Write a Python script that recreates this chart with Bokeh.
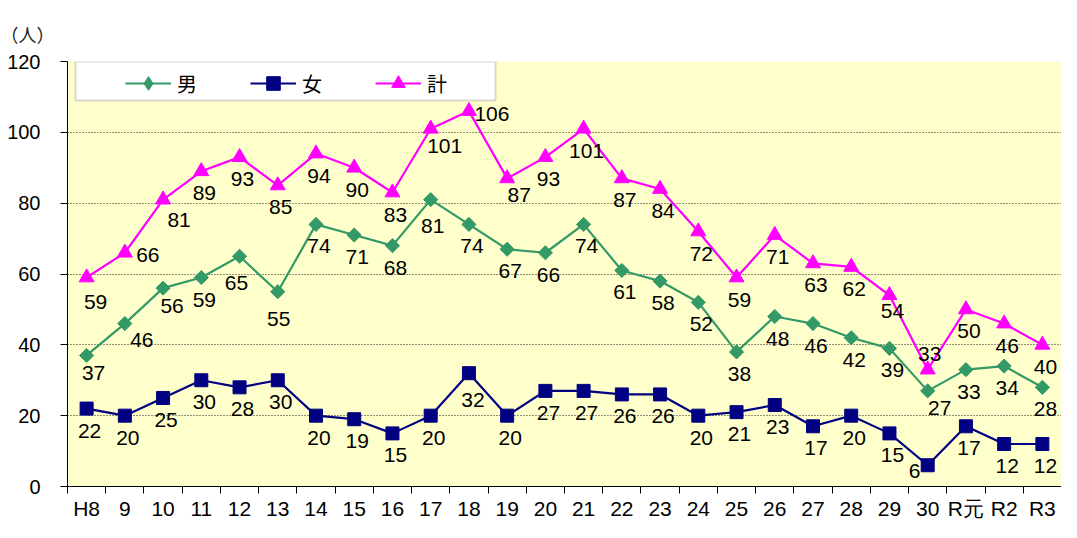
import numpy as np
from bokeh.plotting import figure
from bokeh.models import (ColumnDataSource, FixedTicker, LabelSet, Legend, LegendItem,
                          BoxAnnotation, Range1d, Title)
from bokeh.core.properties import value
from bokeh.embed import file_html
from bokeh.resources import INLINE

# ---------------- data ----------------
categories = ["H8", "9", "10", "11", "12", "13", "14", "15", "16", "17", "18", "19", "20",
              "21", "22", "23", "24", "25", "26", "27", "28", "29", "30", "R元", "R2", "R3"]
male = [37, 46, 56, 59, 65, 55, 74, 71, 68, 81, 74, 67, 66, 74, 61, 58, 52, 38, 48, 46, 42, 39, 27, 33, 34, 28]
female = [22, 20, 25, 30, 28, 30, 20, 19, 15, 20, 32, 20, 27, 27, 26, 26, 20, 21, 23, 17, 20, 15, 6, 17, 12, 12]
total = [59, 66, 81, 89, 93, 85, 94, 90, 83, 101, 106, 87, 93, 101, 87, 84, 72, 59, 71, 63, 62, 54, 33, 50, 46, 40]
series_names = ["男", "女", "計"]
y_ticks = [0, 20, 40, 60, 80, 100, 120]

# ---------------- style ----------------
W, H = 1061, 522
BL, BR, BT, BB = 67, 0, 61, 35
GREEN, NAVY, MAGENTA = "#339966", "#000080", "#FF00FF"
LATIN = "Liberation Sans"
CJK = "Noto Sans CJK JP"

# label offsets (screen px: dx right, dy down); default plus a few exceptions
DEFAULT_OFF = (3, 22)
label_exceptions = {
    ("計", "H8"): (9, 24), ("計", "9"): (23, 2), ("計", "10"): (16, 20), ("計", "17"): (14, 17),
    ("計", "18"): (23, 3), ("計", "19"): (12, 17), ("計", "30"): (2, -16), ("計", "29"): (3, 16),
    ("男", "H8"): (7, 18), ("男", "9"): (17, 16), ("男", "10"): (9, 18), ("男", "12"): (-3, 27),
    ("男", "13"): (1, 27), ("男", "30"): (12, 17), ("男", "17"): (2, 26),
    ("女", "30"): (-13, 6), ("女", "18"): (4, 27),
}

n = len(categories)
xs = [i + 0.5 for i in range(n)]

p = figure(width=W, height=H, output_backend="svg", toolbar_location=None,
           x_range=Range1d(0, n), y_range=Range1d(0, 120),
           min_border_left=BL, min_border_right=BR, min_border_top=BT, min_border_bottom=BB,
           background_fill_color="#FFFFCC", border_fill_color="white")
p.outline_line_color = None

# title "(人)"
p.title = Title(text="（人）", align="left", offset=-BL, standoff=29,
                text_font=CJK, text_font_size="18px", text_font_style="normal", text_color="#222222")

# axes
p.xaxis.ticker = FixedTicker(ticks=xs, minor_ticks=list(range(n + 1)))
p.xaxis.major_label_overrides = {x: c for x, c in zip(xs, categories)}
p.xaxis.major_tick_out = 0
p.xaxis.major_tick_in = 0
p.xaxis.minor_tick_out = 7
p.xaxis.minor_tick_in = 0
p.xaxis.minor_tick_line_color = "black"
p.xaxis.axis_line_color = "black"
p.xaxis.major_label_text_font = LATIN
p.xaxis.major_label_text_font_size = "21px"
p.xaxis.major_label_text_color = "black"
p.xaxis.major_label_standoff = 3

p.yaxis.ticker = FixedTicker(ticks=y_ticks)
p.yaxis.major_tick_out = 7
p.yaxis.major_tick_in = 0
p.yaxis.minor_tick_line_color = None
p.yaxis.axis_line_color = "black"
p.yaxis.major_tick_line_color = "black"
p.yaxis.major_label_text_font = LATIN
p.yaxis.major_label_text_font_size = "20px"
p.yaxis.major_label_text_color = "black"
p.yaxis.major_label_standoff = 20

p.xgrid.grid_line_color = None
p.ygrid.ticker = FixedTicker(ticks=y_ticks)
p.ygrid.grid_line_color = "#222222"
p.ygrid.grid_line_dash = "1 2"
p.ygrid.grid_line_width = 1

# series
renderers = {}
specs = [("男", male, GREEN, dict(marker="square", size=10, angle=np.pi / 4), "diamond", 14),
         ("女", female, NAVY, dict(marker="square", size=13), "square", 12),
         ("計", total, MAGENTA, dict(marker="triangle", size=15), "triangle", 13)]
for name, vals, color, mk, legend_marker, legend_size in specs:
    src = ColumnDataSource(dict(x=xs, y=vals))
    ln = p.line("x", "y", source=src, line_color=color, line_width=2.2)
    sc = p.scatter("x", "y", source=src, fill_color=color, line_color=color, **mk)
    # swatch marker used only by the legend (a single non-plotted NaN point)
    lg = p.scatter(x=[float("nan")], y=[float("nan")], marker=legend_marker,
                   fill_color=color, line_color=color, size=legend_size)
    renderers[name] = [ln, lg]
    offs = [label_exceptions.get((name, c), DEFAULT_OFF) for c in categories]
    lsrc = ColumnDataSource(dict(x=xs, y=vals, t=[str(v) for v in vals],
                                 xo=[o[0] for o in offs], yo=[-o[1] for o in offs]))
    p.add_layout(LabelSet(x="x", y="y", text="t", source=lsrc, x_offset="xo", y_offset="yo",
                          text_align="center", text_baseline="middle",
                          text_font=value(LATIN), text_font_size="21px", text_color="black"))

# legend box (white with grey border) behind the legend
frame_w = W - BL - BR
frame_h = H - BT - BB
cw = frame_w / n
px_per_unit = frame_h / 120.0
box = BoxAnnotation(left=8 / cw, right=428 / cw, top=120, bottom=120 - 39 / px_per_unit,
                    fill_color="white", fill_alpha=1.0, line_color="#808080", line_width=2)
p.add_layout(box)

legend = Legend(items=[LegendItem(label=nm, renderers=renderers[nm]) for nm in series_names],
                orientation="horizontal", location=(58, frame_h - 40), glyph_width=46, glyph_height=34,
                label_standoff=6, label_width=20, spacing=53, padding=3, margin=0,
                border_line_color=None, background_fill_alpha=0,
                label_text_font=CJK, label_text_font_size="20px", label_text_color="black")
p.add_layout(legend, "center")

open("out.html", "w").write(file_html(p, INLINE))
